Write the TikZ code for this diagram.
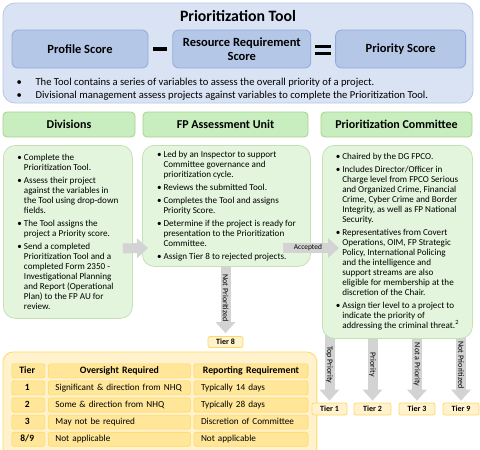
\documentclass[tikz,border=0pt]{standalone}
\usepackage{fontspec}
\setmainfont{Carlito}
\usetikzlibrary{arrows.meta, positioning, backgrounds, fit, matrix}
\definecolor{toolfill}{HTML}{DAE3F3}
\definecolor{toolline}{HTML}{B4C7E7}
\definecolor{scorefill}{HTML}{B4C7E7}
\definecolor{scoreline}{HTML}{8FAADC}
\definecolor{headfill}{HTML}{C8EDBE}
\definecolor{headline}{HTML}{A9D18E}
\definecolor{boxfill}{HTML}{E3F6DD}
\definecolor{boxline}{HTML}{C5E0B4}
\definecolor{arrowgray}{HTML}{D3D3D3}
\definecolor{tierfill}{HTML}{FFF2CC}
\definecolor{tierline}{HTML}{FFD966}
\definecolor{cellfill}{HTML}{FFE699}
\newcommand{\bul}{\makebox[6.5pt][l]{\textbullet}}
\newcommand{\ind}{\hspace*{6.5pt}}

\begin{document}
\begin{tikzpicture}[
    x=1pt, y=1pt,
    toolpanel/.style={rectangle, draw=toolline, fill=toolfill, line width=0.8pt, rounded corners=12pt},
    score/.style={rectangle, draw=scoreline, fill=scorefill, line width=0.8pt, rounded corners=6pt, minimum height=38pt, align=center, font=\fontsize{12.5}{14.5}\selectfont\bfseries},
    header/.style={rectangle, draw=headline, fill=headfill, line width=0.8pt, rounded corners=4pt, minimum height=25pt, font=\fontsize{12}{14}\selectfont\bfseries},
    content/.style={rectangle, draw=boxline, fill=boxfill, line width=0.8pt, rounded corners=12pt, align=left, anchor=north west, font=\fontsize{9.1}{10}\selectfont},
    tierbox/.style={rectangle, draw=tierline, fill=tierfill, line width=0.8pt, rounded corners=2pt, minimum height=12pt, inner sep=0pt, font=\fontsize{8}{9}\selectfont\bfseries},
    cell/.style={rectangle, draw=tierline, fill=cellfill, line width=0.6pt, rounded corners=2pt, inner xsep=7pt, inner ysep=0pt, text height=6.5pt, text depth=2pt, minimum height=14pt, align=left, font=\fontsize{9.2}{10}\selectfont},
    fatarrow/.style={draw=arrowgray, line width=10pt, -{Triangle[length=11pt, width=20pt, line width=0pt]}},
    arrowtext/.style={font=\fontsize{8}{9}\selectfont, inner sep=1pt}
]
\useasboundingbox (0,0) rectangle (480,-450);

% prioritization tool
\node[toolpanel, minimum width=470pt, minimum height=100pt] (tool) at (238,-53) {};
\node[font=\fontsize{15.8}{18}\selectfont\bfseries] (title) at (238,-16) {Prioritization Tool};
\node[score, minimum width=136pt] (profile) at (80,-49) {Profile Score};
\node[score, minimum width=138pt, right=24pt of profile] (resource) {Resource Requirement\\Score};
\node[score, minimum width=130pt, right=24pt of resource] (priority) {Priority Score};
\node[inner sep=0pt] (minus) at (160,-49) {\rule{14pt}{3.5pt}};
\node[inner sep=0pt] (equals) at (323,-50) {\rule[3.3pt]{16pt}{3.5pt}\llap{\rule[-3.3pt]{16pt}{3.5pt}}};
\node[anchor=west, align=left, font=\fontsize{10.6}{13.5}\selectfont] (notes) at (13,-89)
    {\makebox[19pt][l]{\textbullet}The Tool contains a series of variables to assess the overall priority of a project.\\
     \makebox[19pt][l]{\textbullet}Divisional management assess projects against variables to complete the Prioritization Tool.};

% three stages
\node[header, minimum width=132pt] (divhead) at (69,-124.5) {Divisions};
\node[header, minimum width=165pt] (fphead) at (225.5,-124.5) {FP Assessment Unit};
\node[header, minimum width=151pt] (comhead) at (396.5,-124.5) {Prioritization Committee};

\node[content, minimum width=129pt, minimum height=173pt] (divbox) at (3,-145) {%
\bul Complete the\\ \ind Prioritization Tool.\\[3pt]
\bul Assess their project\\ \ind against the variables in\\ \ind the Tool using drop-down\\ \ind fields.\\[3pt]
\bul The Tool assigns the\\ \ind project a Priority score.\\[3pt]
\bul Send a completed\\ \ind Prioritization Tool and a\\ \ind completed Form 2350 -\\ \ind Investigational Planning\\ \ind and Report (Operational\\ \ind Plan) to the FP AU for\\ \ind review.};

\node[content, minimum width=168pt, minimum height=121pt] (fpbox) at (142,-145) {%
\bul Led by an Inspector to support\\ \ind Committee governance and\\ \ind prioritization cycle.\\[3pt]
\bul Reviews the submitted Tool.\\[3pt]
\bul Completes the Tool and assigns\\ \ind Priority Score.\\[3pt]
\bul Determine if the project is ready for\\ \ind presentation to the Prioritization\\ \ind Committee.\\[3pt]
\bul Assign Tier 8 to rejected projects.};

\node[content, minimum width=150pt, minimum height=193pt] (combox) at (322,-145) {%
\bul Chaired by the DG FPCO.\\[3pt]
\bul Includes Director/Officer in\\ \ind Charge level from FPCO Serious\\ \ind and Organized Crime, Financial\\ \ind Crime, Cyber Crime and Border\\ \ind Integrity, as well as FP National\\ \ind Security.\\[3pt]
\bul Representatives from Covert\\ \ind Operations, OIM, FP Strategic\\ \ind Policy, International Policing\\ \ind and the intelligence and\\ \ind support streams are also\\ \ind eligible for membership at the\\ \ind discretion of the Chair.\\[3pt]
\bul Assign tier level to a project to\\ \ind indicate the priority of\\ \ind addressing the criminal threat.\textsuperscript{2}};

% tiers
\node[tierbox, minimum width=35pt, minimum height=11pt] (t8) at (225.5,-342) {Tier 8};
\node[tierbox, minimum width=35pt] (t1) at (329.5,-409) {Tier 1};
\node[tierbox, minimum width=37pt] (t2) at (372.5,-409) {Tier 2};
\node[tierbox, minimum width=36pt] (t3) at (417,-409) {Tier 3};
\node[tierbox, minimum width=36pt] (t9) at (461,-409) {Tier 9};

\matrix (tiertable) [matrix of nodes, anchor=north west, column sep=3pt, row sep=2.5pt, nodes={cell},
    column 1/.style={nodes={minimum width=33pt, align=center, font=\fontsize{9.5}{10}\selectfont\bfseries}},
    column 2/.style={nodes={text width=128pt}},
    column 3/.style={nodes={text width=100pt}},
    row 1/.style={nodes={align=center, font=\fontsize{9.8}{10}\selectfont\bfseries}}] at (8,-360) {
    Tier & Oversight Required & Reporting Requirement \\
    1 & Significant \& direction from NHQ & Typically 14 days \\
    2 & Some \& direction from NHQ & Typically 28 days \\
    3 & May not be required & Discretion of Committee \\
    8/9 & Not applicable & Not applicable \\
};

\begin{scope}[on background layer]
\node[rectangle, draw=tierline, fill=tierfill, line width=0.8pt, rounded corners=10pt, fit=(tiertable), inner xsep=5pt, inner ysep=8pt] (tierpanel) {};
\draw[fatarrow] ([yshift=4pt]t8.north |- fpbox.south) -- node[arrowtext, rotate=-90] {Not Prioritized} ([yshift=3pt]t8.north);
\draw[fatarrow] ([yshift=10pt]t1.north |- combox.south) -- node[arrowtext, rotate=-90] {Top Priority} ([yshift=2pt]t1.north);
\draw[fatarrow] ([yshift=10pt]t2.north |- combox.south) -- node[arrowtext, rotate=-90] {Priority} ([yshift=2pt]t2.north);
\draw[fatarrow] ([yshift=10pt]t3.north |- combox.south) -- node[arrowtext, rotate=-90] {Not a Priority} ([yshift=2pt]t3.north);
\draw[fatarrow] ([yshift=10pt]t9.north |- combox.south) -- node[arrowtext, rotate=-90] {Not Prioritized} ([yshift=2pt]t9.north);
\end{scope}

\draw[fatarrow] ([xshift=-10pt, yshift=-16.5pt]divbox.east) -- ([xshift=6pt]fpbox.west |- 0,-248);
\draw[fatarrow] ([xshift=-28pt]fpbox.east |- 0,-248) -- node[arrowtext, font=\fontsize{7.4}{8}\selectfont, fill=arrowgray, xshift=-3pt] {Accepted} ([xshift=17pt]combox.west |- 0,-248);
\end{tikzpicture}
\end{document}
